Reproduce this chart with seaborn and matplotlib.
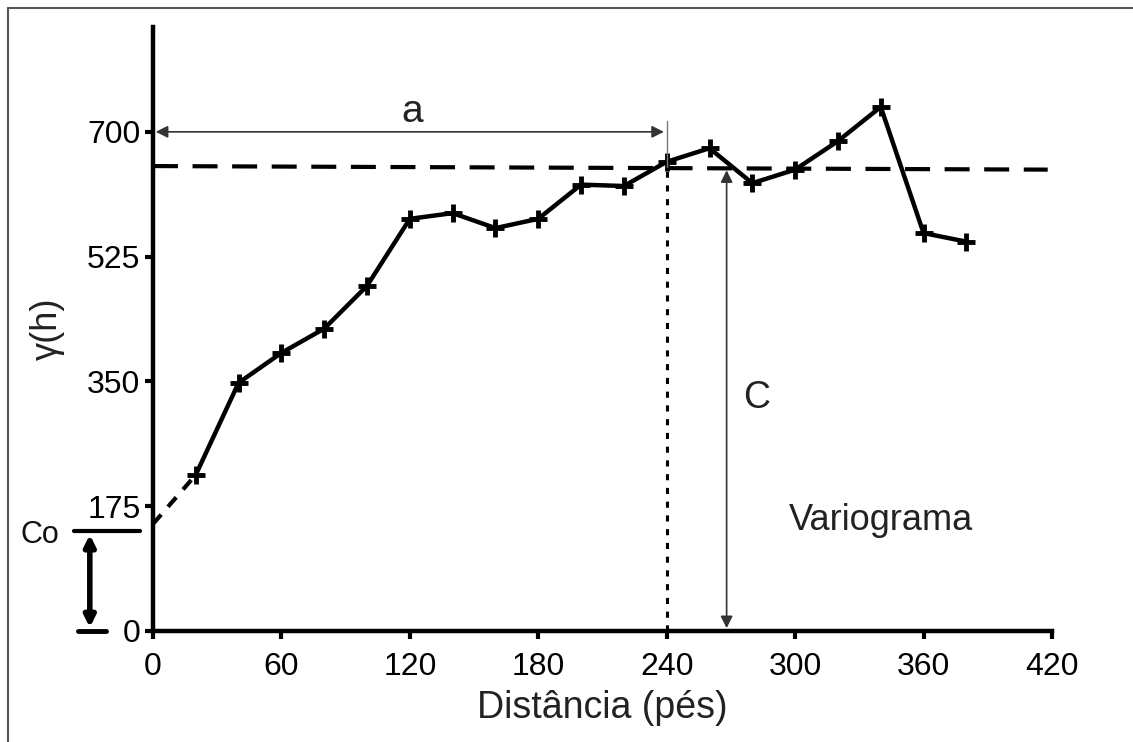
import numpy as np
import pandas as pd
import seaborn as sns
import matplotlib.pyplot as plt
from matplotlib.lines import Line2D

# dados do variograma experimental
distancia = [20, 40, 60, 80, 100, 120, 140, 160, 180, 200, 220, 240, 260, 280, 300, 320, 340, 360, 380]
gama = [219, 348, 390, 424, 484, 578, 586, 565, 578, 626, 624, 658, 677, 628, 647, 687, 735, 558, 546]
inicio_x = [0, 20]
inicio_y = [150, 219]
patamar_x = [0, 418]
patamar_y = [652, 647]
pepita = 140
alcance = 240
x_ticks = [0, 60, 120, 180, 240, 300, 360, 420]
y_ticks = [0, 175, 350, 525, 700]

sns.set_style('ticks')
plt.rcParams['font.family'] = ['Liberation Sans', 'DejaVu Sans']

fig = plt.figure(figsize=(11.33, 7.42), dpi=100)
ax = fig.add_axes([0.135, 0.1496, 0.7935, 0.814])

df = pd.DataFrame({'dist': distancia, 'gama': gama})
sns.lineplot(data=df, x='dist', y='gama', ax=ax, color='black', lw=3.2,
             marker='+', markersize=13, markeredgewidth=3.5, markeredgecolor='black')
ax.plot(inicio_x, inicio_y, color='black', lw=3, dashes=(3, 2.5))

# patamar
ax.plot(patamar_x, patamar_y, color='black', lw=3, dashes=(6, 3.5))
# alcance
ax.plot([alcance, alcance], [0, 652], color='black', lw=2.2, dashes=(2, 2.5))
ax.plot([alcance, alcance], [650, 715], color='#777777', lw=1)
ax.annotate('', xy=(0, 700), xytext=(alcance, 700),
            arrowprops=dict(arrowstyle='<|-|>', color='#333333', lw=1.2, mutation_scale=18))
ax.text(121, 728, 'a', fontsize=28, ha='center', va='center', color='#222222')
# contribuição
ax.annotate('', xy=(268, 0), xytext=(268, 650),
            arrowprops=dict(arrowstyle='<|-|>', color='#333333', lw=1.2, mutation_scale=18))
ax.text(282, 327, 'C', fontsize=27, ha='center', va='center', color='#222222')
ax.text(340, 155, 'Variograma', fontsize=26, ha='center', va='center', color='#222222')

# efeito pepita
ax.plot([-37, -6], [pepita, pepita], color='black', lw=3, clip_on=False)
ax.plot([-35, -22], [0, 0], color='black', lw=3.5, clip_on=False)
ax.annotate('', xy=(-29.5, 1), xytext=(-29.5, pepita - 1), annotation_clip=False,
            arrowprops=dict(arrowstyle='<|-|>', color='black', lw=4, mutation_scale=16))
ax.text(-53, 135, 'Co', fontsize=22, ha='center', va='center', color='#111111', clip_on=False)

ax.set_xlim(0, 420)
ax.set_ylim(0, 847)
ax.set_xticks(x_ticks)
ax.set_yticks(y_ticks)
ax.tick_params(axis='both', labelsize=23, length=6, width=3, pad=3, colors='black')
ax.tick_params(axis='x', pad=9)
ax.set_xlabel('Distância (pés)', fontsize=27, labelpad=6, color='#222222')
ax.set_ylabel('γ(h)', fontsize=26, labelpad=16, color='#222222')
for side in ['top', 'right']:
    ax.spines[side].set_visible(False)
for side in ['left', 'bottom']:
    ax.spines[side].set_linewidth(3.2)
    ax.spines[side].set_color('black')

# moldura
fig.add_artist(Line2D([8 / 1133, 1], [1 - 8 / 742, 1 - 8 / 742], color='#555555', lw=1.5))
fig.add_artist(Line2D([8 / 1133, 8 / 1133], [0, 1 - 8 / 742], color='#555555', lw=1.5))

fig.savefig('out.png', dpi=100)
